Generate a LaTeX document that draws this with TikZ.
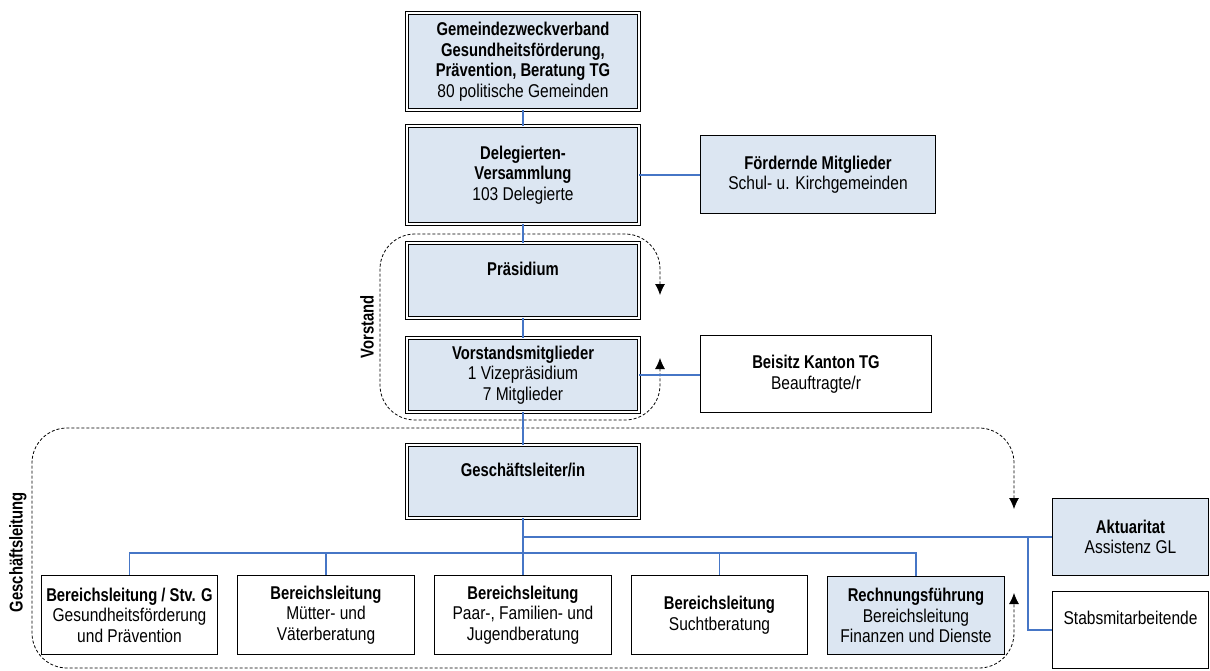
\documentclass[tikz,border=0pt]{standalone}
\usepackage{fontspec}
\setmainfont{Liberation Sans}[UprightFeatures={FakeStretch=0.84}, BoldFeatures={FakeStretch=0.80}]
\usepackage{tikz}
\usetikzlibrary{arrows.meta}
\usetikzlibrary{positioning}
\definecolor{boxblue}{RGB}{220,230,242}
\definecolor{lineblue}{RGB}{70,118,198}
\tikzset{
	orgtext/.style={font=\fontsize{18.5}{20.5}\selectfont, align=center, inner sep=2pt},
	dblbox/.style={orgtext, draw=black, line width=0.9pt, double=white, double distance=1.8pt, fill=boxblue, minimum width=232pt},
	bluebox/.style={orgtext, draw=black, line width=1.2pt, fill=boxblue},
	whitebox/.style={orgtext, draw=black, line width=1.2pt, fill=white},
	mainline/.style={lineblue, line width=2.8pt},
	subline/.style={lineblue, line width=1.4pt},
	groupline/.style={black, line width=0.8pt, dash pattern=on 3pt off 2pt, rounded corners=35pt,
		arrows={Latex[length=11pt,width=10pt]}-{Latex[length=11pt,width=10pt]}},
}
\begin{document}
\begin{tikzpicture}[x=1pt,y=-1pt]
	\useasboundingbox (0,0) rectangle (1210,670);
	% groups
	\draw[groupline] (660,295) -- (660,234) -- (380,234) -- (380,420) -- (660,420) -- (660,358);
	\draw[groupline] (1014,509) -- (1014,428) -- (32,428) -- (32,668) -- (1014,668) -- (1014,593);
	\node[orgtext, font=\fontsize{18.5}{20.5}\selectfont\bfseries, rotate=90] (vorstand) at (367,327) {Vorstand};
	\node[orgtext, font=\fontsize{18.5}{20.5}\selectfont\bfseries, rotate=90] (geschaeftsleitung) at (18,552) {Geschäftsleitung};
	%
	\node[dblbox, minimum height=97pt] (verband) at (523,61.5) {\textbf{Gemeindezweckverband}\\\textbf{Gesundheitsförderung,}\\\textbf{Prävention, Beratung TG}\\80 politische Gemeinden};
	\node[dblbox, minimum height=98pt] (delegierte) at (523,175) {\textbf{Delegierten-}\\\textbf{Versammlung}\\103 Delegierte};
	\node[bluebox, minimum width=235pt, minimum height=78pt] (foerdernde) at (818,174.5) {\textbf{Fördernde Mitglieder}\\Schul- u. Kirchgemeinden};
	\node[dblbox, minimum height=75pt] (praesidium) at (523,280.5) {\textbf{Präsidium}\\[3pt]\mbox{}};
	\node[dblbox, minimum height=74pt] (vorstandsmitglieder) at (523,375) {\textbf{Vorstandsmitglieder}\\1 Vizepräsidium\\7 Mitglieder};
	\node[whitebox, minimum width=231pt, minimum height=77pt] (beisitz) at (816,374) {\textbf{Beisitz Kanton TG}\\Beauftragte/r};
	\node[dblbox, minimum height=73pt] (leiter) at (523,481.5) {\textbf{Geschäftsleiter/in}\\[3pt]\mbox{}};
	%
	\node[whitebox, minimum width=176pt, minimum height=79pt] (gesundheit) at (129.5,615) {\textbf{Bereichsleitung / Stv. G}\\Gesundheitsförderung\\und Prävention};
	\node[whitebox, minimum width=177pt, minimum height=79pt] (muetter) at (326,615) {\textbf{Bereichsleitung}\\Mütter- und\\Väterberatung};
	\node[whitebox, minimum width=177pt, minimum height=79pt] (familien) at (523,615) {\textbf{Bereichsleitung}\\Paar-, Familien- und\\Jugendberatung};
	\node[whitebox, minimum width=176pt, minimum height=79pt] (sucht) at (719.5,615) {\textbf{Bereichsleitung}\\Suchtberatung};
	\node[bluebox, minimum width=177pt, minimum height=78pt] (rechnung) at (916,615.5) {\textbf{Rechnungsführung}\\Bereichsleitung\\Finanzen und Dienste};
	\node[bluebox, minimum width=156pt, minimum height=77pt] (aktuariat) at (1130.5,537) {\textbf{Aktuaritat}\\Assistenz GL};
	\node[whitebox, minimum width=156pt, minimum height=77pt] (stabs) at (1130.5,630) {Stabsmitarbeitende\\[3pt]\mbox{}};
	%
	\coordinate (bus) at (523,553);
	\coordinate (stabstap) at (1028,537);
	% connectors
	\draw[subline] (vorstandsmitglieder.east) -- (vorstandsmitglieder.east -| beisitz.west);
	\draw[subline] (gesundheit.north) |- (bus);
	\draw[subline] (muetter.north) |- (bus);
	\draw[subline] (sucht.north) -- (sucht.north |- bus);
	\draw[subline] (stabstap) |- (stabs.west);
	\draw[mainline] (verband.south) -- (delegierte.north);
	\draw[mainline] (delegierte.east) -- (delegierte.east -| foerdernde.west);
	\draw[mainline] (delegierte.south) -- (praesidium.north);
	\draw[mainline] (praesidium.south) -- (vorstandsmitglieder.north);
	\draw[mainline] (vorstandsmitglieder.south) -- (leiter.north);
	\draw[mainline] (leiter.south) -- (familien.north);
	\draw[mainline] (leiter.south |- aktuariat.west) -- (aktuariat.west);
	\draw[mainline] (bus) -| (rechnung.north);
\end{tikzpicture}
\end{document}
